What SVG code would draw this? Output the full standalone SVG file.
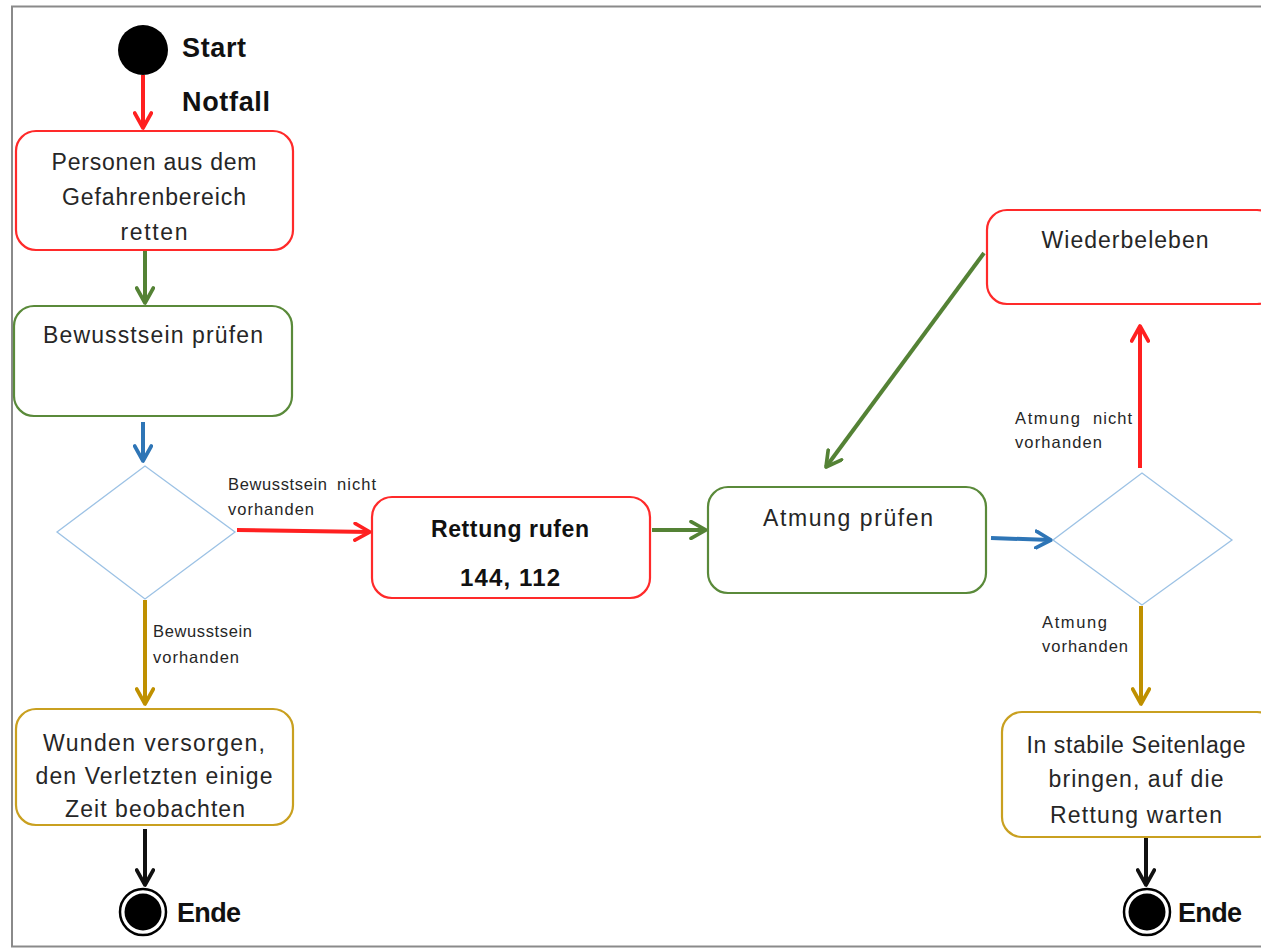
<svg xmlns="http://www.w3.org/2000/svg" width="1261" height="949" viewBox="0 0 1261 949">
<style>
.box{fill:#fff;stroke-width:2.2}
.red{stroke:#ff2a2a}
.grn{stroke:#5a8a3a}
.gold{stroke:#c9a020}
.dia{fill:#fff;stroke:#9cc2e5;stroke-width:1.3}
.t{font-family:"Liberation Sans",Arial,sans-serif;font-size:23px;fill:#262626;text-anchor:middle}
.b{font-family:"Liberation Sans",Arial,sans-serif;font-weight:bold;fill:#111}
.s{font-family:"Liberation Sans",Arial,sans-serif;font-size:16.5px;fill:#262626}
.c{fill:none;stroke-width:4}
</style>
<defs>
<marker id="mr" viewBox="0 0 12 12" refX="10" refY="6" markerWidth="5" markerHeight="5" orient="auto" markerUnits="strokeWidth"><path d="M1,1 L10,6 L1,11" fill="none" stroke="#ff2020" stroke-width="2.2" stroke-linecap="round" stroke-linejoin="round"/></marker>
<marker id="mg" viewBox="0 0 12 12" refX="10" refY="6" markerWidth="5" markerHeight="5" orient="auto" markerUnits="strokeWidth"><path d="M1,1 L10,6 L1,11" fill="none" stroke="#548235" stroke-width="2.2" stroke-linecap="round" stroke-linejoin="round"/></marker>
<marker id="mb" viewBox="0 0 12 12" refX="10" refY="6" markerWidth="5" markerHeight="5" orient="auto" markerUnits="strokeWidth"><path d="M1,1 L10,6 L1,11" fill="none" stroke="#2e75b6" stroke-width="2.2" stroke-linecap="round" stroke-linejoin="round"/></marker>
<marker id="my" viewBox="0 0 12 12" refX="10" refY="6" markerWidth="5" markerHeight="5" orient="auto" markerUnits="strokeWidth"><path d="M1,1 L10,6 L1,11" fill="none" stroke="#bf9000" stroke-width="2.2" stroke-linecap="round" stroke-linejoin="round"/></marker>
<marker id="mk" viewBox="0 0 12 12" refX="10" refY="6" markerWidth="5" markerHeight="5" orient="auto" markerUnits="strokeWidth"><path d="M1,1 L10,6 L1,11" fill="none" stroke="#111" stroke-width="2.2" stroke-linecap="round" stroke-linejoin="round"/></marker>
</defs>
<rect x="0" y="0" width="1261" height="949" fill="#fff"/>
<rect x="12" y="6.5" width="1260" height="940" fill="none" stroke="#8a8a8a" stroke-width="2"/>

<g id="connectors">
<line class="c" x1="143" y1="75" x2="143" y2="128" stroke="#ff2020" marker-end="url(#mr)"/>
<line class="c" x1="145" y1="251" x2="145" y2="303" stroke="#548235" marker-end="url(#mg)"/>
<line class="c" x1="143" y1="422" x2="143" y2="461" stroke="#2e75b6" marker-end="url(#mb)"/>
<line class="c" x1="237" y1="530" x2="370" y2="532" stroke="#ff2020" marker-end="url(#mr)"/>
<line class="c" x1="145" y1="600" x2="145" y2="704" stroke="#bf9000" marker-end="url(#my)"/>
<line class="c" x1="145" y1="829" x2="145" y2="885" stroke="#111" marker-end="url(#mk)"/>
<line class="c" x1="652" y1="530" x2="706" y2="530" stroke="#548235" marker-end="url(#mg)"/>
<line class="c" x1="991" y1="538" x2="1051" y2="540" stroke="#2e75b6" marker-end="url(#mb)"/>
<line class="c" x1="1140" y1="468" x2="1140" y2="326" stroke="#ff2020" marker-end="url(#mr)"/>
<line class="c" x1="984" y1="253" x2="826" y2="467" stroke="#548235" marker-end="url(#mg)"/>
<line class="c" x1="1141" y1="606" x2="1141" y2="704" stroke="#bf9000" marker-end="url(#my)"/>
<line class="c" x1="1146" y1="838" x2="1146" y2="885" stroke="#111" marker-end="url(#mk)"/>
<text class="s" x="228" y="490" textLength="99" lengthAdjust="spacing">Bewusstsein</text>
<text class="s" x="337" y="490" textLength="39" lengthAdjust="spacing">nicht</text>
<text class="s" x="228" y="515" textLength="86" lengthAdjust="spacing">vorhanden</text>
<text class="s" x="153" y="637" textLength="99" lengthAdjust="spacing">Bewusstsein</text>
<text class="s" x="153" y="663" textLength="86" lengthAdjust="spacing">vorhanden</text>
<text class="s" x="1015" y="424" textLength="65" lengthAdjust="spacing">Atmung</text>
<text class="s" x="1093" y="424" textLength="39" lengthAdjust="spacing">nicht</text>
<text class="s" x="1015" y="448" textLength="87" lengthAdjust="spacing">vorhanden</text>
<text class="s" x="1042" y="628" textLength="65" lengthAdjust="spacing">Atmung</text>
<text class="s" x="1042" y="652" textLength="86" lengthAdjust="spacing">vorhanden</text>
</g>

<g id="start">
<circle cx="143" cy="50" r="25" fill="#000"/>
<text class="b" x="182" y="57" font-size="27" textLength="64" lengthAdjust="spacing">Start</text>
<text class="b" x="182" y="111" font-size="27" textLength="88" lengthAdjust="spacing">Notfall</text>
</g>

<g id="n1">
<rect class="box red" x="16" y="131" width="277" height="119" rx="20"/>
<text class="t" x="154" y="170" textLength="205" lengthAdjust="spacing">Personen aus dem</text>
<text class="t" x="154" y="205" textLength="184" lengthAdjust="spacing">Gefahrenbereich</text>
<text class="t" x="154" y="240" textLength="67" lengthAdjust="spacing">retten</text>
</g>

<g id="n2">
<rect class="box grn" x="14" y="306" width="278" height="110" rx="20"/>
<text class="t" x="153" y="343" textLength="220" lengthAdjust="spacing">Bewusstsein prüfen</text>
</g>

<g id="d1">
<polygon class="dia" points="57,532 145,466 235,532 145,599"/>
</g>

<g id="n3">
<rect class="box gold" x="16" y="709" width="277" height="116" rx="20"/>
<text class="t" x="154" y="751" textLength="222" lengthAdjust="spacing">Wunden versorgen,</text>
<text class="t" x="154" y="784" textLength="237" lengthAdjust="spacing">den Verletzten einige</text>
<text class="t" x="155" y="817" textLength="180" lengthAdjust="spacing">Zeit beobachten</text>
</g>

<g id="end1">
<circle cx="143" cy="912" r="23" fill="#fff" stroke="#000" stroke-width="2.5"/>
<circle cx="143" cy="912" r="18.5" fill="#000"/>
<text class="b" x="177" y="922" font-size="27" textLength="64" lengthAdjust="spacing">Ende</text>
</g>

<g id="n4">
<rect class="box red" x="372" y="497" width="278" height="101" rx="20"/>
<text class="b" x="510" y="537" font-size="23" text-anchor="middle" textLength="158" lengthAdjust="spacing">Rettung rufen</text>
<text class="b" x="510" y="586" font-size="24" text-anchor="middle" textLength="100" lengthAdjust="spacing">144, 112</text>
</g>

<g id="n5">
<rect class="box grn" x="708" y="487" width="278" height="106" rx="20"/>
<text class="t" x="848" y="526" textLength="170" lengthAdjust="spacing">Atmung prüfen</text>
</g>

<g id="d2">
<polygon class="dia" points="1053,540 1142,473 1232,540 1142,605"/>
</g>

<g id="n6">
<rect class="box red" x="987" y="210" width="290" height="94" rx="20"/>
<text class="t" x="1125" y="248" textLength="167" lengthAdjust="spacing">Wiederbeleben</text>
</g>

<g id="n7">
<rect class="box gold" x="1002" y="712" width="275" height="125" rx="20"/>
<text class="t" x="1136" y="753" textLength="219" lengthAdjust="spacing">In stabile Seitenlage</text>
<text class="t" x="1136" y="787" textLength="175" lengthAdjust="spacing">bringen, auf die</text>
<text class="t" x="1136" y="823" textLength="172" lengthAdjust="spacing">Rettung warten</text>
</g>

<g id="end2">
<circle cx="1147" cy="912" r="23" fill="#fff" stroke="#000" stroke-width="2.5"/>
<circle cx="1147" cy="912" r="18.5" fill="#000"/>
<text class="b" x="1178" y="922" font-size="27" textLength="64" lengthAdjust="spacing">Ende</text>
</g>
</svg>
